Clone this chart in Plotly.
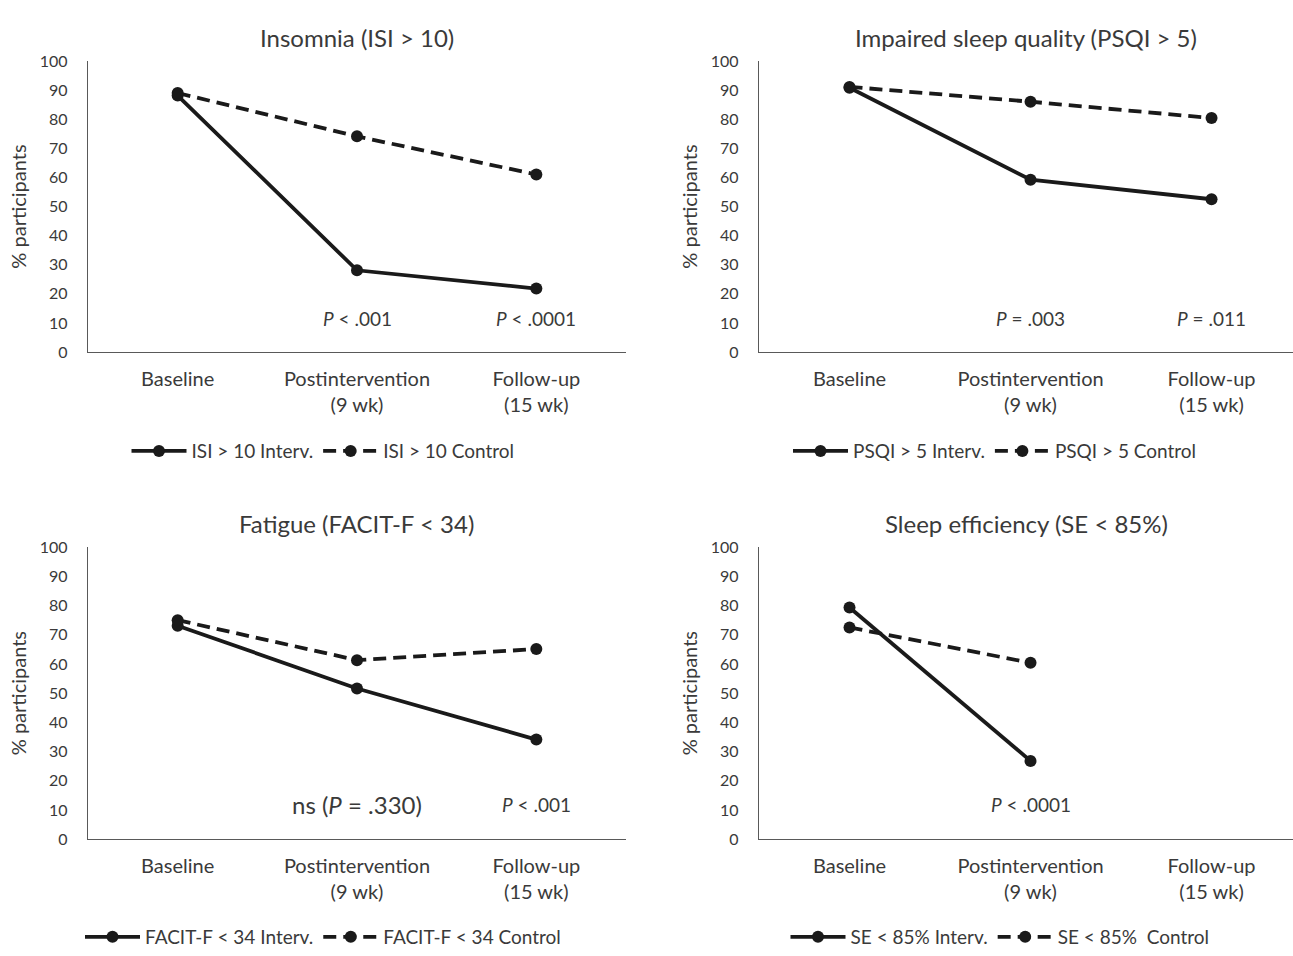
import plotly.graph_objects as go

categories = ["Baseline", "Postintervention<br>(9 wk)", "Follow-up<br>(15 wk)"]
x_idx = [0, 1, 2]

titles = ["Insomnia (ISI > 10)", "Impaired sleep quality (PSQI > 5)",
          "Fatigue (FACIT-F < 34)", "Sleep efficiency (SE < 85%)"]

isi_interv = [88.1, 28.1, 21.8]
isi_control = [89.0, 74.1, 61.0]
psqi_interv = [90.8, 59.2, 52.5]
psqi_control = [91.1, 86.0, 80.4]
facit_interv = [73.1, 51.6, 34.1]
facit_control = [75.0, 61.3, 65.1]
se_interv = [79.3, 26.8, None]
se_control = [72.5, 60.4, None]

legend_names = [("ISI > 10 Interv.", "ISI > 10 Control"),
                ("PSQI > 5 Interv.", "PSQI > 5 Control"),
                ("FACIT-F < 34 Interv.", "FACIT-F < 34 Control"),
                ("SE < 85% Interv.", "SE < 85%  Control")]

p_labels = [
    [(1, "<i>P</i> < .001", 19), (2, "<i>P</i> < .0001", 19)],
    [(1, "<i>P</i> = .003", 19), (2, "<i>P</i> = .011", 19)],
    [(1, "ns (<i>P</i> = .330)", 24), (2, "<i>P</i> < .001", 19)],
    [(1, "<i>P</i> < .0001", 19)],
]
p_y = [11.5, 11.5, 12, 12]

series = [(isi_interv, isi_control), (psqi_interv, psqi_control),
          (facit_interv, facit_control), (se_interv, se_control)]

W, H = 1293, 956
FONT = "Lato"
TXT = "#3a3a3a"
LINE = "#1a1a1a"

# panel geometry in pixels: (x_left, x_right, y_top(100), y_bottom(0))
geom = [(88, 626, 52, 349), (759, 1293, 52, 349),
        (88, 626, 548, 846), (759, 1293, 548, 846)]
xranges = [[-0.5, 2.5], [-0.5, 2.45], [-0.5, 2.5], [-0.5, 2.45]]
legend_pos = [(323, 450), (995, 450), (323, 946), (1000, 946)]

fig = go.Figure()
layout = dict(width=W, height=H, margin=dict(l=0, r=0, t=0, b=0),
              paper_bgcolor="white", plot_bgcolor="white",
              font=dict(family=FONT, color=TXT), showlegend=True)
annotations = []

for i, (interv, control) in enumerate(series):
    n = "" if i == 0 else str(i + 1)
    xa, ya = "x" + n, "y" + n
    lg = "legend" + n
    fig.add_trace(go.Scatter(x=x_idx, y=interv, mode="lines+markers", name=legend_names[i][0],
                             line=dict(color=LINE, width=3.8), marker=dict(size=12, color=LINE),
                             xaxis=xa, yaxis=ya, legend=lg, connectgaps=False))
    fig.add_trace(go.Scatter(x=x_idx, y=control, mode="lines+markers", name=legend_names[i][1],
                             line=dict(color=LINE, width=3.8, dash="13px,7px"), marker=dict(size=12, color=LINE),
                             xaxis=xa, yaxis=ya, legend=lg, connectgaps=False))
    x0, x1, yt, yb = geom[i]
    layout["xaxis" + n] = dict(domain=[x0 / W, x1 / W], range=xranges[i], tickmode="array",
                               tickvals=x_idx, ticktext=categories, showgrid=False, zeroline=False,
                               showline=True, linecolor="#595959", linewidth=1.3, ticks="",
                               tickfont=dict(size=20, color=TXT, family=FONT), ticklabelstandoff=9,
                               anchor=ya, fixedrange=True)
    layout["yaxis" + n] = dict(domain=[1 - yb / H, 1 - yt / H], range=[0, 100], tickmode="array",
                               tickvals=list(range(0, 101, 10)), showgrid=False, zeroline=False,
                               showline=True, linecolor="#595959", linewidth=1.3, ticks="",
                               tickfont=dict(size=16, color=TXT, family=FONT), ticklabelstandoff=16,
                               title=dict(text="% participants", font=dict(size=20, color=TXT, family=FONT), standoff=7),
                               anchor=xa, fixedrange=True)
    lx, ly = legend_pos[i]
    layout[lg] = dict(orientation="h", x=lx / W, y=1 - ly / H, xanchor="center", yanchor="middle",
                      font=dict(size=19, color=TXT, family=FONT), itemwidth=55, bgcolor="rgba(0,0,0,0)",
                      tracegroupgap=0)
    annotations.append(dict(text=titles[i], x=(x0 + x1) / 2 / W, y=1 - (yt - 24) / H,
                            xref="paper", yref="paper", showarrow=False, xanchor="center", yanchor="middle",
                            font=dict(size=24, color=TXT, family=FONT)))
    for (xc, txt, fs) in p_labels[i]:
        annotations.append(dict(text=txt, x=xc, y=p_y[i], xref=xa, yref=ya, showarrow=False,
                                xanchor="center", yanchor="middle", font=dict(size=fs, color=TXT, family=FONT)))

layout["annotations"] = annotations
fig.update_layout(**layout)
fig.write_html("out.html", config={"displayModeBar": False},
               post_script="document.body.style.margin='0px';")
